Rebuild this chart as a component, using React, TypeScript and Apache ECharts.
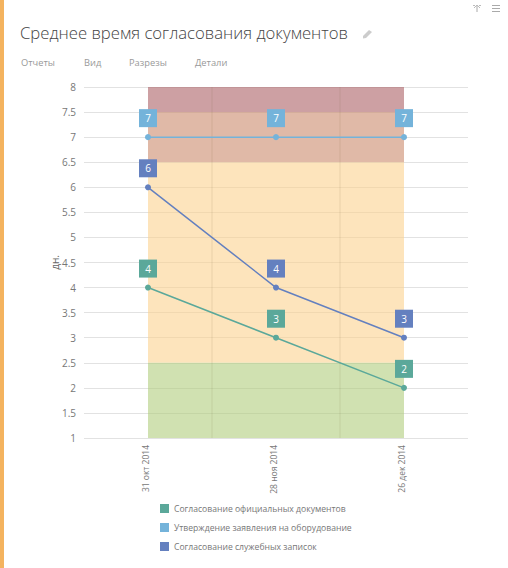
import React, { useEffect, useRef } from "react";
import * as echarts from "echarts";

const categories = ["31 окт 2014", "28 ноя 2014", "26 дек 2014"];
const officialDocs = [4, 3, 2];
const equipmentRequests = [7, 7, 7];
const memos = [6, 4, 3];
const seriesNames = [
  "Согласование официальных документов",
  "Утверждение заявления на оборудование",
  "Согласование служебных записок",
];
const menuItems = [
  { text: "Отчеты", x: 21 },
  { text: "Вид", x: 84 },
  { text: "Разрезы", x: 129 },
  { text: "Детали", x: 195 },
];
const bands = [
  { from: 7.5, to: 8, color: "rgba(172,97,102,0.6)" },
  { from: 6.5, to: 7.5, color: "rgba(203,138,108,0.6)" },
  { from: 2.5, to: 6.5, color: "rgba(252,210,143,0.6)" },
  { from: 1, to: 2.5, color: "rgba(177,205,125,0.6)" },
];
const dividers = [1, 2];
const FONT = "'Open Sans', sans-serif";

function lineSeries(name: string, data: number[], color: string) {
  return {
    name,
    type: "line",
    data,
    z: 5,
    symbol: "circle",
    symbolSize: 6,
    itemStyle: { color },
    lineStyle: { color, width: 1.5 },
    label: {
      show: true,
      position: "top",
      distance: 7,
      width: 18,
      height: 18,
      lineHeight: 18,
      align: "center",
      backgroundColor: color,
      color: "#fff",
      fontSize: 10,
      fontFamily: FONT,
    },
  };
}

export default function App() {
  const ref = useRef<HTMLDivElement>(null);
  useEffect(() => {
    document.body.style.margin = "0";
    const chart = echarts.init(ref.current!, null, { renderer: "svg" });
    chart.setOption({
      animation: false,
      textStyle: { fontFamily: FONT },
      grid: { left: 84, right: 40, top: 87, height: 351 },
      xAxis: [
        {
          type: "category",
          data: categories,
          axisLine: { show: false },
          axisTick: { show: false },
          splitLine: { show: false },
          axisLabel: { rotate: 90, color: "#777", fontSize: 8.5, margin: 7, verticalAlign: "bottom", lineHeight: 6, fontFamily: FONT },
        },
        { type: "value", min: 0, max: 3, show: false },
      ],
      yAxis: {
        type: "value",
        min: 1,
        max: 8,
        interval: 0.5,
        name: "дн.",
        nameLocation: "middle",
        nameGap: 24,
        nameMoveOverlap: false,
        nameRotate: 90,
        nameTextStyle: { color: "#666", fontSize: 10, fontWeight: 400, fontFamily: FONT },
        axisLine: { show: false },
        axisTick: { show: false },
        axisLabel: { color: "#777", fontSize: 10, margin: 8, fontFamily: FONT },
        splitLine: { lineStyle: { color: "#e2e2e2", width: 1 } },
      },
      legend: {
        orient: "vertical",
        left: 155,
        top: 499,
        itemWidth: 9,
        itemHeight: 9,
        itemGap: 10,
        icon: "rect",
        data: seriesNames,
        textStyle: { color: "#777", fontSize: 8.6, fontFamily: FONT },
      },
      series: [
        {
          type: "line",
          name: "bands",
          data: [],
          silent: true,
          z: 1,
          markArea: {
            silent: true,
            data: bands.map((b) => [
              { xAxis: categories[0], yAxis: b.from, itemStyle: { color: b.color } },
              { xAxis: categories[2], yAxis: b.to },
            ]),
          },
        },
        {
          type: "line",
          name: "dividers",
          xAxisIndex: 1,
          data: [],
          silent: true,
          z: 2,
          markLine: {
            silent: true,
            symbol: "none",
            label: { show: false },
            lineStyle: { color: "rgba(110,90,50,0.09)", width: 1.5, type: "solid" },
            data: dividers.map((d) => ({ xAxis: d })),
          },
        },
        lineSeries(seriesNames[0], officialDocs, "#5ba89a"),
        lineSeries(seriesNames[1], equipmentRequests, "#74b3da"),
        lineSeries(seriesNames[2], memos, "#6480bf"),
      ],
      graphic: [
        { type: "rect", shape: { x: 0, y: 0, width: 4, height: 568 }, style: { fill: "#f4b35f" } },
        {
          type: "text",
          x: 20,
          y: 24,
          style: {
            text: "Среднее время согласования документов",
            fill: "#444",
            fontSize: 16.7,
            fontWeight: 300,
            fontFamily: FONT,
          },
        },
        ...menuItems.map((m) => ({
          type: "text",
          x: m.x,
          y: 58,
          style: { text: m.text, fill: "#999", fontSize: 9.3, fontFamily: FONT },
        })),
        { type: "polygon", shape: { points: [[363, 36], [369, 30], [372, 32], [366, 38], [363, 38.5]] }, style: { fill: "#ccc" } },
        { type: "rect", shape: { x: 492, y: 5, width: 8, height: 1 }, style: { fill: "#aaa" } },
        { type: "rect", shape: { x: 492, y: 8, width: 8, height: 1 }, style: { fill: "#aaa" } },
        { type: "rect", shape: { x: 492, y: 11, width: 8, height: 1 }, style: { fill: "#aaa" } },
        { type: "line", shape: { x1: 477, y1: 5, x2: 477, y2: 12 }, style: { stroke: "#aaa", lineWidth: 1 } },
        { type: "line", shape: { x1: 473, y1: 5.5, x2: 481, y2: 5.5 }, style: { stroke: "#bbb", lineWidth: 1, lineDash: [2, 1] } },
        { type: "line", shape: { x1: 474, y1: 8, x2: 476, y2: 6 }, style: { stroke: "#bbb", lineWidth: 1 } },
        { type: "line", shape: { x1: 480, y1: 8, x2: 478, y2: 6 }, style: { stroke: "#bbb", lineWidth: 1 } },
      ],
    });
    return () => chart.dispose();
  }, []);
  return <div ref={ref} style={{ width: 508, height: 568 }} />;
}
